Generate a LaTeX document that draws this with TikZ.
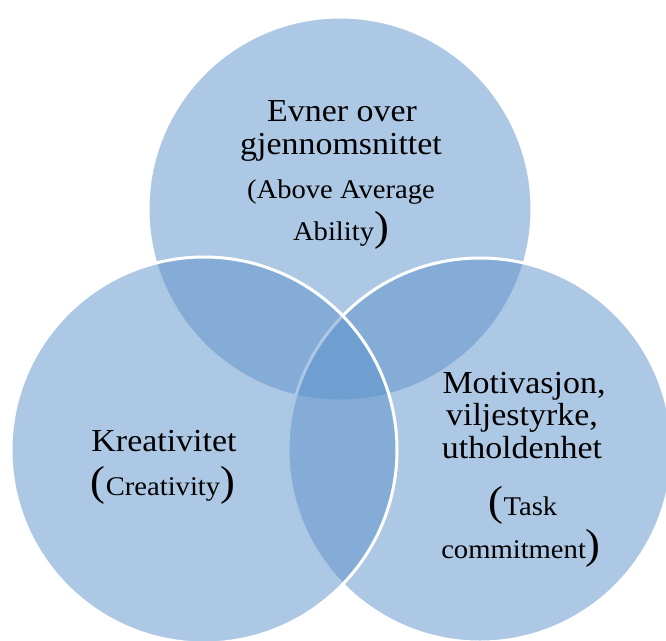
\documentclass[tikz,border=0pt]{standalone}
\usepackage{fontspec}
\setmainfont{Liberation Serif}[FakeStretch=1.06]
\definecolor{venn}{RGB}{91,145,201}
\tikzset{
  ring/.style={circle, minimum size=384pt, inner sep=0pt, outer sep=0pt,
    fill=venn, fill opacity=0.5, draw=white, draw opacity=1, line width=3pt},
  bigtxt/.style={font=\fontsize{32}{32}\selectfont, anchor=base, inner sep=0pt},
  smalltxt/.style={font=\fontsize{27}{27}\selectfont, anchor=base, inner sep=0pt},
}
\newcommand{\bigparen}[1]{{\fontsize{42}{42}\selectfont #1}}
\begin{document}
\begin{tikzpicture}[x=1pt,y=-1pt]
\useasboundingbox (0,0) rectangle (666,640);
\clip (0,0) rectangle (666,640);
% circles: top, right, left (drawing order)
\node[ring] (top) at (340,209) {};
\node[ring] (right) at (480,450) {};
\node[ring, minimum size=386pt] (left) at (204,450) {};
% top labels
\node[bigtxt] (t1) at (342,121) {Evner over};
\node[bigtxt] (t2) at (341,154) {gjennomsnittet};
\node[smalltxt] (t3) at (341,198) {(Above Average};
\node[smalltxt] (t4) at (341,240) {Ability\bigparen{)}};
% left labels
\node[bigtxt] (l1) at (164,451) {Kreativitet};
\node[smalltxt] (l2) at (163,495) {\bigparen{(}Creativity\bigparen{)}};
% right labels
\node[bigtxt] (r1) at (524,393) {Motivasjon,};
\node[bigtxt] (r2) at (522,425) {viljestyrke,};
\node[bigtxt] (r3) at (522,458) {utholdenhet};
\node[smalltxt] (r4) at (523,515) {\bigparen{(}Task};
\node[smalltxt] (r5) at (521,558) {commitment\bigparen{)}};
\end{tikzpicture}
\end{document}
